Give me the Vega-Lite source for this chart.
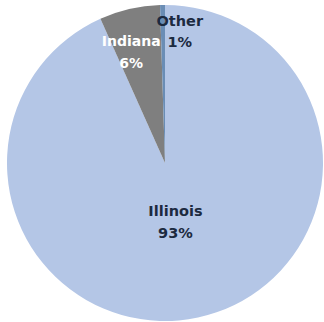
{
  "$schema": "https://vega.github.io/schema/vega-lite/v6.json",
  "width": 324,
  "height": 322,
  "autosize": {"type": "fit", "contains": "padding"},
  "padding": {"left": 6, "top": 4, "right": 0, "bottom": 0},
  "background": "white",
  "view": {"stroke": null},
  "data": {
    "values": [
      {"state": "Illinois", "value": 93.3, "pct": "93%", "order": 1},
      {"state": "Indiana", "value": 6.2, "pct": "6%", "order": 2},
      {"state": "Other", "value": 0.5, "pct": "1%", "order": 3}
    ]
  },
  "transform": [
    {"stack": "value", "sortby": [{"field": "order"}], "groupby": [], "as": ["v0", "v1"]},
    {"calculate": "(datum.v0 + datum.v1) / 2", "as": "mid"},
    {"calculate": "[datum.state, datum.pct]", "as": "label"}
  ],
  "layer": [
    {
      "mark": {"type": "arc", "outerRadius": 158},
      "encoding": {
        "theta": {"field": "v0", "type": "quantitative", "scale": {"domain": [0, 100]}},
        "theta2": {"field": "v1"},
        "color": {
          "field": "state",
          "type": "nominal",
          "scale": {"domain": ["Illinois", "Indiana", "Other"], "range": ["#b4c6e6", "#7f7f7f", "#6a8db5"]},
          "legend": null
        }
      }
    },
    {
      "transform": [{"filter": "datum.state === 'Illinois'"}],
      "mark": {"type": "text", "radius": 50, "font": "DejaVu Sans", "fontWeight": "bold", "fontSize": 14.5, "lineHeight": 22, "color": "#1c2a40"},
      "encoding": {
        "theta": {"field": "mid", "type": "quantitative", "stack": false, "scale": {"domain": [0, 100]}},
        "text": {"field": "label"}
      }
    },
    {
      "transform": [{"filter": "datum.state === 'Indiana'"}],
      "mark": {"type": "text", "radius": 124, "dx": -6, "font": "DejaVu Sans", "fontWeight": "bold", "fontSize": 14, "lineHeight": 22, "color": "white"},
      "encoding": {
        "theta": {"field": "mid", "type": "quantitative", "stack": false, "scale": {"domain": [0, 100]}},
        "text": {"field": "label"}
      }
    },
    {
      "transform": [{"filter": "datum.state === 'Other'"}],
      "mark": {"type": "text", "radius": 141, "dx": 17, "font": "DejaVu Sans", "fontWeight": "bold", "fontSize": 14.5, "lineHeight": 21, "color": "#1c2a40"},
      "encoding": {
        "theta": {"field": "mid", "type": "quantitative", "stack": false, "scale": {"domain": [0, 100]}},
        "text": {"field": "label"}
      }
    }
  ]
}
